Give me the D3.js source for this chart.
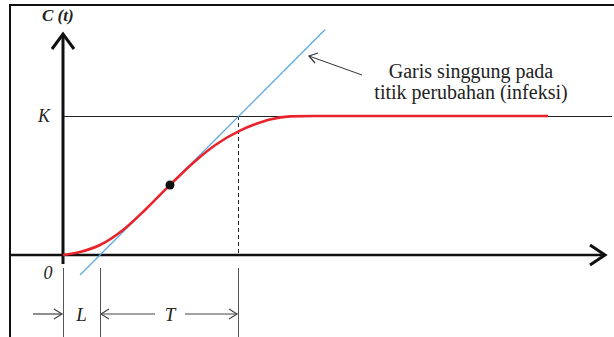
<!DOCTYPE html>
<html>
<head>
<meta charset="utf-8">
<script src="https://cdn.jsdelivr.net/npm/d3@7"></script>
<style>
  body { margin: 0; background: #fff; }
  svg text { font-family: "Liberation Serif", "Times New Roman", serif; fill: #222; }
</style>
</head>
<body>
<div id="chart"></div>
<script>
const width = 614;
const height = 337;

// kurva C(t) (t dalam satuan bebas, C relatif terhadap K)
const curveT = [0, 0.34, 0.74, 1.2, 1.64, 2.14, 2.64, 3.04, 3.54, 3.84, 4.14, 4.54, 5.0, 9.7];
const curveC = [0, 0.022, 0.072, 0.18, 0.324, 0.504, 0.675, 0.79, 0.895, 0.94, 0.975, 0.997, 1.0, 1.0];

// titik infleksi dan garis singgung
const inflection = [2.14, 0.504];
const tangentT = [0.34, 5.24];
const tangentC = [-0.144, 1.62];

const K = 1;
const L = 0.74;
const LT = 3.5; // L + T
const kEnd = 10.98;

const svg = d3.select("#chart")
    .append("svg")
    .attr("width", width)
    .attr("height", height);

const x = d3.scaleLinear().domain([0, 11]).range([63, 613]);
const y = d3.scaleLinear().domain([0, 1]).range([255, 116]);

// bingkai
svg.append("path")
    .attr("d", "M10,337 L10,5 L614,5")
    .attr("fill", "none")
    .attr("stroke", "#111")
    .attr("stroke-width", 2);

// garis K
svg.append("line")
    .attr("x1", x(0)).attr("x2", x(kEnd))
    .attr("y1", y(K) + 0.5).attr("y2", y(K) + 0.5)
    .attr("stroke", "#222").attr("stroke-width", 1);

// garis putus-putus di L+T
svg.append("line")
    .attr("x1", x(LT) + 0.5).attr("x2", x(LT) + 0.5)
    .attr("y1", y(K)).attr("y2", y(0))
    .attr("stroke", "#222").attr("stroke-width", 1)
    .attr("stroke-dasharray", "4,3");

// garis bantu ukuran di bawah sumbu
[0, L, LT].forEach(v => {
    svg.append("line")
        .attr("x1", x(v) + 0.5).attr("x2", x(v) + 0.5)
        .attr("y1", 268).attr("y2", height)
        .attr("stroke", "#555").attr("stroke-width", 1);
});

// sumbu
svg.append("line")
    .attr("x1", 10).attr("x2", 604)
    .attr("y1", y(0)).attr("y2", y(0))
    .attr("stroke", "#111").attr("stroke-width", 2.6);
svg.append("line")
    .attr("x1", x(0)).attr("x2", x(0))
    .attr("y1", 264).attr("y2", 35)
    .attr("stroke", "#111").attr("stroke-width", 3);

// kepala panah sumbu
svg.append("path")
    .attr("d", `M590,245 L605,${y(0)} L590,265`)
    .attr("fill", "none").attr("stroke", "#111").attr("stroke-width", 3)
    .attr("stroke-linejoin", "miter");
svg.append("path")
    .attr("d", `M52,49 L${x(0)},34 L74,49`)
    .attr("fill", "none").attr("stroke", "#111").attr("stroke-width", 3)
    .attr("stroke-linejoin", "miter");

// garis singgung
svg.append("line")
    .attr("x1", x(tangentT[0])).attr("y1", y(tangentC[0]))
    .attr("x2", x(tangentT[1])).attr("y2", y(tangentC[1]))
    .attr("stroke", "#5aa6de").attr("stroke-width", 1.3);

// kurva merah
const pts = curveT.map((t, i) => [t, curveC[i]]);
const line = d3.line()
    .x(d => x(d[0]))
    .y(d => y(d[1]))
    .curve(d3.curveMonotoneX);

svg.append("path")
    .datum(pts)
    .attr("d", line)
    .attr("fill", "none")
    .attr("stroke", "#e8232b")
    .attr("stroke-width", 2.6);

svg.append("circle")
    .attr("cx", x(inflection[0]))
    .attr("cy", y(inflection[1]))
    .attr("r", 4.5)
    .attr("fill", "#111");

// panah ukuran L dan T
function openArrow(x1, x2, yy) {
    const dir = x2 > x1 ? -1 : 1;
    svg.append("line")
        .attr("x1", x1).attr("x2", x2)
        .attr("y1", yy).attr("y2", yy)
        .attr("stroke", "#444").attr("stroke-width", 1.2);
    svg.append("path")
        .attr("d", `M${x2 + dir * 8},${yy - 5} L${x2},${yy} L${x2 + dir * 8},${yy + 5}`)
        .attr("fill", "none").attr("stroke", "#444").attr("stroke-width", 1.2);
}
openArrow(33, x(0) - 1, 314);
openArrow(155, x(L) + 1, 314);
openArrow(185, x(LT) - 1, 314);

svg.append("text")
    .attr("x", (x(0) + x(L)) / 2).attr("y", 321)
    .attr("text-anchor", "middle")
    .attr("font-size", 19).attr("font-style", "italic")
    .text("L");
svg.append("text")
    .attr("x", 170).attr("y", 321)
    .attr("text-anchor", "middle")
    .attr("font-size", 19).attr("font-style", "italic")
    .text("T");

// label sumbu
svg.append("text")
    .attr("x", 42).attr("y", 21)
    .attr("font-size", 17).attr("font-style", "italic").attr("font-weight", "bold")
    .text("C (t)");
svg.append("text")
    .attr("x", 44).attr("y", y(K) + 6)
    .attr("text-anchor", "middle")
    .attr("font-size", 18).attr("font-style", "italic")
    .text("K");
svg.append("text")
    .attr("x", 48).attr("y", 279)
    .attr("text-anchor", "middle")
    .attr("font-size", 18).attr("font-style", "italic")
    .text("0");

// anotasi
svg.append("line")
    .attr("x1", 362).attr("y1", 75)
    .attr("x2", 309).attr("y2", 56)
    .attr("stroke", "#333").attr("stroke-width", 1);
svg.append("path")
    .attr("d", "M318,53 L309,56 L315,63")
    .attr("fill", "none").attr("stroke", "#333").attr("stroke-width", 1.2);

const note = svg.append("text")
    .attr("text-anchor", "middle")
    .attr("font-size", 20);
note.append("tspan").attr("x", 471).attr("y", 78).text("Garis singgung pada");
note.append("tspan").attr("x", 471).attr("y", 99).text("titik perubahan (infeksi)");
</script>
</body>
</html>
